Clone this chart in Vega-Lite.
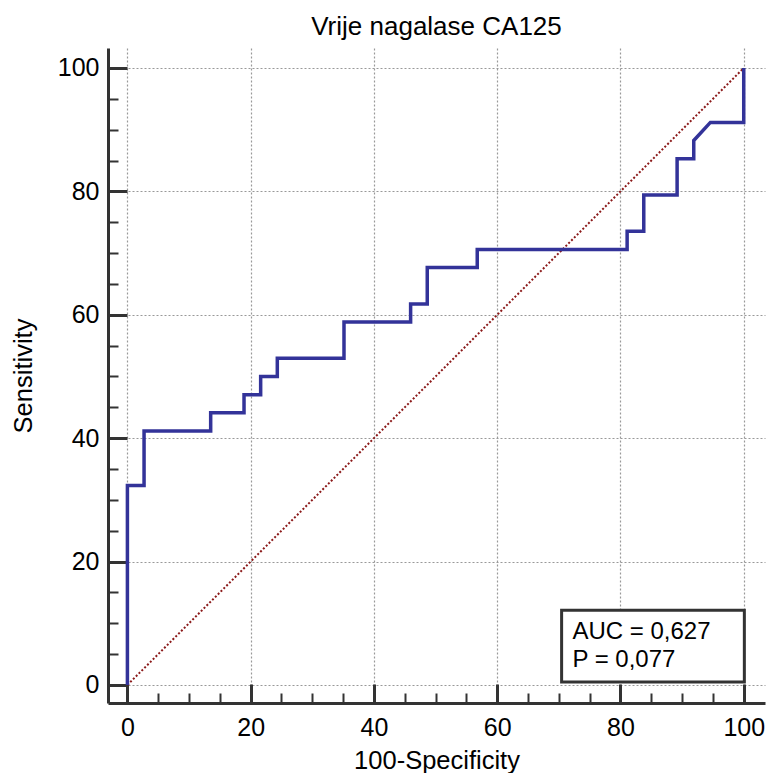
{
  "$schema": "https://vega.github.io/schema/vega-lite/v6.json",
  "width": 657,
  "height": 655,
  "autosize": "none",
  "padding": {"left": 108, "top": 48, "right": 4, "bottom": 70},
  "background": "white",
  "title": {"text": "Vrije nagalase CA125", "font": "Liberation Sans", "fontSize": 26, "fontWeight": "normal", "color": "black", "anchor": "middle", "offset": 8},
  "config": {"view": {"stroke": null}, "font": "Liberation Sans"},
  "datasets": {
    "roc": [
      {"i": 0, "fpr": 0, "tpr": 0},
      {"i": 1, "fpr": 0, "tpr": 32.35},
      {"i": 2, "fpr": 2.70, "tpr": 32.35},
      {"i": 3, "fpr": 2.70, "tpr": 41.18},
      {"i": 4, "fpr": 13.51, "tpr": 41.18},
      {"i": 5, "fpr": 13.51, "tpr": 44.12},
      {"i": 6, "fpr": 18.92, "tpr": 44.12},
      {"i": 7, "fpr": 18.92, "tpr": 47.06},
      {"i": 8, "fpr": 21.62, "tpr": 47.06},
      {"i": 9, "fpr": 21.62, "tpr": 50.0},
      {"i": 10, "fpr": 24.32, "tpr": 50.0},
      {"i": 11, "fpr": 24.32, "tpr": 52.94},
      {"i": 12, "fpr": 35.14, "tpr": 52.94},
      {"i": 13, "fpr": 35.14, "tpr": 58.82},
      {"i": 14, "fpr": 45.95, "tpr": 58.82},
      {"i": 15, "fpr": 45.95, "tpr": 61.76},
      {"i": 16, "fpr": 48.65, "tpr": 61.76},
      {"i": 17, "fpr": 48.65, "tpr": 67.65},
      {"i": 18, "fpr": 56.76, "tpr": 67.65},
      {"i": 19, "fpr": 56.76, "tpr": 70.59},
      {"i": 20, "fpr": 81.08, "tpr": 70.59},
      {"i": 21, "fpr": 81.08, "tpr": 73.53},
      {"i": 22, "fpr": 83.78, "tpr": 73.53},
      {"i": 23, "fpr": 83.78, "tpr": 79.41},
      {"i": 24, "fpr": 89.19, "tpr": 79.41},
      {"i": 25, "fpr": 89.19, "tpr": 85.29},
      {"i": 26, "fpr": 91.89, "tpr": 85.29},
      {"i": 27, "fpr": 91.89, "tpr": 88.24},
      {"i": 28, "fpr": 94.59, "tpr": 91.18},
      {"i": 29, "fpr": 100, "tpr": 91.18},
      {"i": 30, "fpr": 100, "tpr": 100}
    ],
    "diag": [
      {"fpr": 0, "tpr": 0},
      {"fpr": 100, "tpr": 100}
    ],
    "note": [
      {"label": "AUC = 0,627\nP = 0,077"}
    ]
  },
  "resolve": {"axis": {"x": "independent", "y": "independent"}},
  "layer": [
    {
      "data": {"name": "diag"},
      "mark": {"type": "line", "color": "#8b1a1a", "strokeDash": [2, 2], "strokeWidth": 2},
      "encoding": {
        "x": {
          "field": "fpr", "type": "quantitative",
          "scale": {"domain": [-3.15, 103.45], "nice": false, "zero": false},
          "axis": {
            "orient": "bottom", "values": [0, 20, 40, 60, 80, 100],
            "grid": true, "gridColor": "#999999", "gridDash": [2, 2], "gridWidth": 1.2,
            "domainColor": "#333333", "domainWidth": 3,
            "tickColor": "#333333", "tickWidth": 3, "tickSize": -19,
            "labelPadding": 31, "labelFontSize": 25, "labelColor": "black", "labelFont": "Liberation Sans",
            "labelFlush": false, "labelOverlap": false,
            "title": "100-Specificity", "titleFontSize": 25.5, "titleFontWeight": "normal", "titleColor": "black", "titleFont": "Liberation Sans",
            "titleX": 328.5, "titleY": 65, "titleBaseline": "alphabetic", "titleAlign": "center"
          }
        },
        "y": {
          "field": "tpr", "type": "quantitative",
          "scale": {"domain": [-2.92, 103.24], "nice": false, "zero": false},
          "axis": {
            "orient": "left", "values": [0, 20, 40, 60, 80, 100],
            "grid": true, "gridColor": "#999999", "gridDash": [2, 2], "gridWidth": 1.2,
            "domainColor": "#333333", "domainWidth": 3,
            "tickColor": "#333333", "tickWidth": 3, "tickSize": -19,
            "labelPadding": 28, "labelFontSize": 25, "labelColor": "black", "labelFont": "Liberation Sans",
            "labelFlush": false, "labelOverlap": false,
            "title": "Sensitivity", "titleFontSize": 25.5, "titleFontWeight": "normal", "titleColor": "black", "titleFont": "Liberation Sans",
            "titleX": -77, "titleY": 327.5, "titleAngle": 270, "titleBaseline": "alphabetic", "titleAlign": "center"
          }
        }
      }
    },
    {
      "data": {"name": "roc"},
      "mark": {"type": "line", "color": "#333399", "strokeWidth": 3.5, "strokeJoin": "miter"},
      "encoding": {
        "order": {"field": "i", "type": "quantitative"},
        "x": {
          "field": "fpr", "type": "quantitative",
          "scale": {"domain": [-3.15, 103.45], "nice": false, "zero": false},
          "axis": {
            "orient": "bottom", "values": [5, 10, 15, 25, 30, 35, 45, 50, 55, 65, 70, 75, 85, 90, 95],
            "grid": false, "domain": false, "labels": false, "title": null,
            "tickColor": "#333333", "tickWidth": 2, "tickSize": -10
          }
        },
        "y": {
          "field": "tpr", "type": "quantitative",
          "scale": {"domain": [-2.92, 103.24], "nice": false, "zero": false},
          "axis": {
            "orient": "left", "values": [5, 10, 15, 25, 30, 35, 45, 50, 55, 65, 70, 75, 85, 90, 95],
            "grid": false, "domain": false, "labels": false, "title": null,
            "tickColor": "#333333", "tickWidth": 2, "tickSize": -10
          }
        }
      }
    },
    {
      "data": {"name": "note"},
      "mark": {"type": "rect", "fill": "white", "stroke": "#333333", "strokeWidth": 3},
      "encoding": {
        "x": {"datum": 70.45, "type": "quantitative", "axis": null},
        "x2": {"datum": 100.1},
        "y": {"datum": 0.49, "type": "quantitative", "axis": null},
        "y2": {"datum": 12.1}
      }
    },
    {
      "data": {"name": "note"},
      "mark": {"type": "text", "align": "left", "baseline": "alphabetic", "fontSize": 24, "font": "Liberation Sans", "color": "black", "lineBreak": "\n", "lineHeight": 28},
      "encoding": {
        "x": {"datum": 72.2, "type": "quantitative", "axis": null},
        "y": {"datum": 7.52, "type": "quantitative", "axis": null},
        "text": {"field": "label"}
      }
    }
  ]
}
